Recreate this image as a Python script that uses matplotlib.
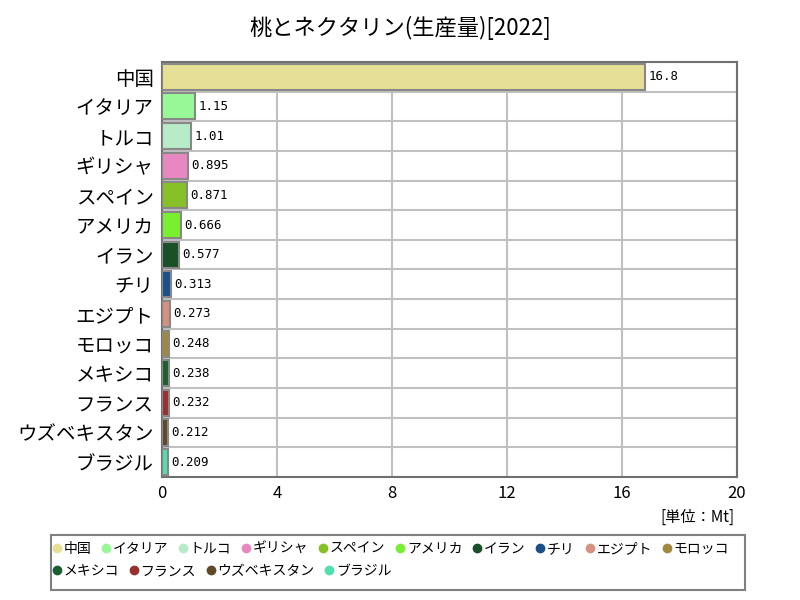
import matplotlib
matplotlib.use("Agg")
import matplotlib.pyplot as plt
import numpy as np
from matplotlib.lines import Line2D
from matplotlib.patches import Rectangle

plt.rcParams["font.family"] = ["Noto Sans CJK JP", "DejaVu Sans"]

countries = ["中国", "イタリア", "トルコ", "ギリシャ", "スペイン", "アメリカ", "イラン",
             "チリ", "エジプト", "モロッコ", "メキシコ", "フランス", "ウズベキスタン", "ブラジル"]
values = [16.8, 1.15, 1.01, 0.895, 0.871, 0.666, 0.577,
          0.313, 0.273, 0.248, 0.238, 0.232, 0.212, 0.209]
value_labels = ["16.8", "1.15", "1.01", "0.895", "0.871", "0.666", "0.577",
                "0.313", "0.273", "0.248", "0.238", "0.232", "0.212", "0.209"]
colors = ["#e5e096", "#98f898", "#b8ecc8", "#e888c0", "#88c028", "#78f030", "#1a5028",
          "#1a5088", "#d89080", "#a08840", "#1a6030", "#983030", "#604828", "#50e0b0"]
xticks = [0, 4, 8, 12, 16, 20]

fig = plt.figure(figsize=(8, 6), dpi=100)
ax = fig.add_axes([0.2025, 0.205, 0.71875, 0.6917])

y = np.arange(len(countries))
ax.barh(y, values, height=0.88, color=colors, edgecolor="#888888", linewidth=1.5, zorder=3)
for yi, v, lab in zip(y, values, value_labels):
    ax.text(v + 0.12, yi, lab, va="center", ha="left", fontsize=9,
            family=["DejaVu Sans Mono"], zorder=4)

ax.set_xlim(0, 20)
ax.set_ylim(len(countries) - 0.5, -0.5)
ax.set_xticks(xticks)
ax.set_xticklabels([str(t) for t in xticks], fontsize=12)
ax.set_yticks(y)
ax.set_yticklabels(countries, fontsize=14)
ax.set_yticks(np.arange(len(countries) - 1) + 0.5, minor=True)
ax.tick_params(axis="y", which="both", length=0, pad=6)
ax.tick_params(axis="x", length=0, pad=6)
ax.grid(axis="x", color="#c0c0c0", linewidth=1.5, zorder=0)
ax.grid(axis="y", which="minor", color="#c0c0c0", linewidth=1.5, zorder=0)
for s in ax.spines.values():
    s.set_color("#707070")
    s.set_linewidth(1.5)

fig.text(0.5, 0.953, "桃とネクタリン(生産量)[2022]", ha="center", va="center", fontsize=16)
fig.text(0.918, 0.138, "[単位：Mt]", ha="right", va="center", fontsize=11)

# legend: frame plus two row-wise legends
fig.patches.append(Rectangle((0.064, 0.017), 0.867, 0.092, transform=fig.transFigure,
                             facecolor="white", edgecolor="#808080", linewidth=1.5, zorder=0))
handles = [Line2D([], [], marker="o", linestyle="none", markersize=6,
                  markerfacecolor=c, markeredgecolor=c) for c in colors]
rows = [(0, 10, 0.085), (10, 14, 0.048)]
for start, stop, ypos in rows:
    leg = fig.legend(handles[start:stop], countries[start:stop], loc="center left",
                     bbox_to_anchor=(0.062, ypos), ncol=stop - start, fontsize=10,
                     frameon=False, handletextpad=0.0, columnspacing=0.55,
                     handlelength=1.0, borderaxespad=0, borderpad=0)

fig.savefig("out.png")
